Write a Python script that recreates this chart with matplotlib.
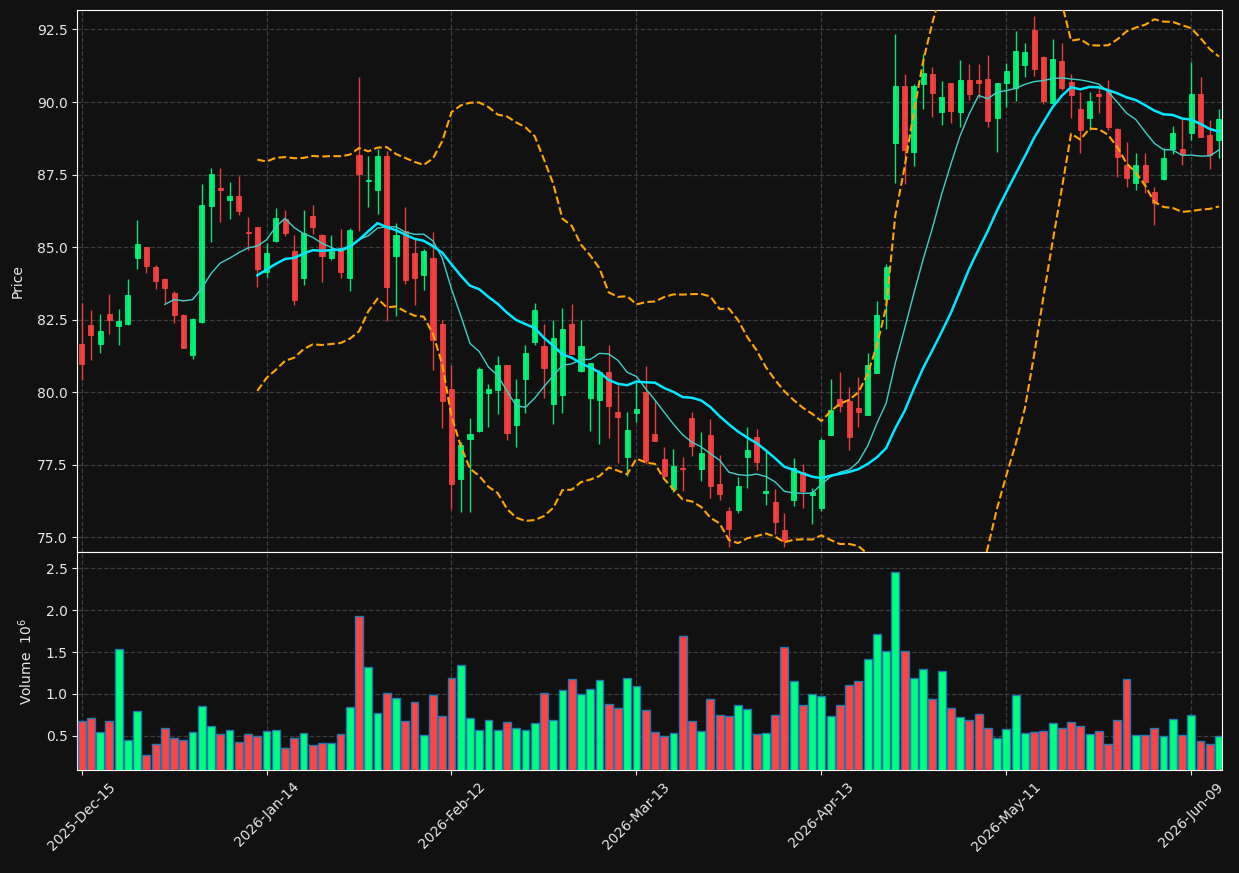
import matplotlib
matplotlib.use("Agg")
import matplotlib.pyplot as plt
import numpy as np
import pandas as pd

# daily OHLC, 2025-12-15 .. 2026-06-12 (trading days)
opens = [81.66, 82.31, 81.67, 82.71, 82.29, 82.36, 84.63, 84.99, 84.33, 83.89,
         83.41, 82.66, 81.29, 82.41, 86.42, 87.02, 86.63, 86.75, 85.53, 85.69,
         84.13, 85.22, 85.96, 84.85, 83.93, 86.08, 85.43, 84.62, 84.98, 83.93,
         88.19, 87.28, 86.96, 88.15, 84.68, 85.57, 84.81, 84.03, 84.63, 82.35,
         80.11, 77.00, 78.40, 78.67, 79.98, 80.08, 80.93, 78.88, 80.46, 81.73,
         81.58, 79.60, 79.91, 82.34, 80.72, 79.81, 79.74, 80.70, 79.30, 77.78,
         79.29, 80.00, 78.57, 77.68, 76.67, 77.38, 79.12, 77.35, 78.54, 76.85,
         75.92, 75.93, 77.76, 78.46, 76.51, 76.22, 75.24, 76.30, 77.24, 76.44,
         76.00, 78.51, 79.78, 79.68, 79.47, 79.21, 80.67, 83.22, 88.60, 90.55,
         88.28, 90.62, 90.96, 89.64, 90.65, 89.67, 90.76, 90.76, 90.79, 89.46,
         90.64, 90.47, 91.27, 92.48, 91.55, 89.95, 91.41, 90.70, 89.76, 89.46,
         90.26, 90.41, 89.07, 87.83, 87.22, 87.83, 86.90, 87.33, 88.38, 88.38,
         88.94, 90.28, 88.86, 88.69]
highs = [83.06, 82.82, 82.71, 83.37, 82.88, 83.90, 85.95, 85.00, 84.40, 83.95,
         83.48, 82.68, 82.57, 87.19, 87.74, 87.71, 87.25, 87.44, 86.04, 85.70,
         85.13, 86.35, 86.28, 85.43, 86.28, 86.45, 85.45, 85.43, 85.63, 85.65,
         90.87, 88.14, 88.37, 88.30, 85.83, 86.38, 85.30, 84.94, 85.52, 82.49,
         80.95, 78.30, 79.11, 80.87, 80.27, 81.26, 80.95, 80.47, 81.64, 83.08,
         82.36, 82.50, 82.91, 83.05, 82.50, 81.01, 80.78, 81.62, 80.24, 79.30,
         80.42, 80.90, 79.74, 78.11, 78.04, 77.77, 79.31, 78.63, 79.07, 77.83,
         76.05, 77.08, 78.80, 78.73, 77.96, 76.68, 75.85, 77.73, 77.53, 76.70,
         78.42, 80.44, 80.70, 80.17, 80.53, 81.35, 83.13, 84.42, 92.33, 90.95,
         90.62, 91.67, 91.22, 90.73, 90.67, 91.45, 91.31, 91.31, 91.62, 90.67,
         91.36, 92.45, 92.05, 92.96, 91.57, 92.16, 92.05, 90.95, 90.36, 90.36,
         90.55, 90.76, 89.09, 88.61, 88.26, 88.23, 87.06, 88.41, 89.17, 89.40,
         91.39, 90.87, 89.38, 89.76]
lows = [80.42, 81.11, 81.36, 81.99, 81.64, 82.31, 84.26, 84.12, 83.57, 83.06,
        82.40, 81.51, 81.16, 82.39, 85.16, 85.85, 85.98, 86.12, 84.89, 83.63,
        83.96, 85.19, 85.38, 83.01, 83.70, 85.45, 83.79, 84.56, 83.95, 83.49,
        85.55, 86.37, 86.14, 82.45, 82.62, 83.73, 83.01, 83.51, 80.77, 78.77,
        75.98, 75.86, 75.86, 78.64, 78.81, 79.24, 78.34, 78.12, 79.27, 81.62,
        79.81, 78.89, 79.27, 81.30, 80.70, 78.66, 78.20, 78.41, 77.55, 77.11,
        78.96, 77.53, 78.31, 77.08, 76.56, 76.59, 77.79, 76.95, 76.37, 76.30,
        74.68, 75.85, 76.70, 77.33, 76.12, 75.10, 74.65, 76.08, 76.02, 75.45,
        75.90, 78.51, 79.31, 78.00, 78.81, 79.21, 80.67, 82.19, 87.20, 87.17,
        87.78, 89.77, 89.47, 89.21, 89.27, 89.15, 90.07, 90.13, 89.15, 88.27,
        89.84, 90.03, 90.87, 90.91, 89.92, 89.92, 90.41, 89.44, 88.23, 89.04,
        89.61, 89.04, 87.43, 87.06, 86.97, 86.88, 85.77, 87.32, 88.21, 87.83,
        88.69, 88.78, 87.68, 88.06]
closes = [80.98, 81.98, 82.10, 82.49, 82.45, 83.34, 85.10, 84.35, 83.84, 83.60,
          82.67, 81.53, 82.52, 86.44, 87.51, 86.96, 86.75, 86.25, 85.50, 84.23,
          84.81, 86.02, 85.47, 83.19, 85.47, 85.68, 84.68, 84.85, 84.13, 85.60,
          87.51, 87.32, 88.15, 83.62, 85.43, 83.88, 83.93, 84.88, 81.80, 79.69,
          76.84, 78.18, 78.56, 80.79, 80.11, 80.93, 78.61, 79.76, 81.34, 82.82,
          80.84, 81.85, 82.19, 81.32, 81.58, 80.99, 80.70, 79.53, 79.14, 78.70,
          79.42, 77.62, 78.31, 77.11, 77.44, 77.35, 78.14, 77.92, 76.76, 76.49,
          75.29, 76.78, 78.01, 77.59, 76.58, 75.53, 74.87, 77.39, 76.61, 76.56,
          78.36, 79.37, 79.54, 78.47, 79.31, 80.95, 82.67, 84.33, 90.55, 88.33,
          90.55, 91.01, 90.32, 90.17, 89.70, 90.76, 90.26, 90.64, 89.36, 90.65,
          91.07, 91.75, 91.71, 91.14, 90.05, 91.48, 90.47, 90.25, 89.05, 90.05,
          90.21, 89.15, 88.10, 87.37, 87.83, 87.26, 86.51, 88.07, 88.92, 88.21,
          90.28, 88.81, 88.18, 89.42]
# volume in millions
volumes = [0.677, 0.717, 0.548, 0.681, 1.536, 0.452, 0.801, 0.271, 0.404, 0.596,
           0.476, 0.452, 0.548, 0.861, 0.620, 0.524, 0.572, 0.428, 0.524, 0.500,
           0.560, 0.572, 0.355, 0.476, 0.536, 0.392, 0.416, 0.416, 0.524, 0.849,
           1.934, 1.319, 0.777, 1.006, 0.946, 0.681, 0.898, 0.512, 0.982, 0.741,
           1.187, 1.343, 0.717, 0.568, 0.693, 0.568, 0.669, 0.596, 0.568, 0.657,
           1.006, 0.693, 1.042, 1.175, 0.994, 1.054, 1.163, 0.886, 0.837, 1.187,
           1.090, 0.813, 0.548, 0.500, 0.536, 1.693, 0.681, 0.560, 0.934, 0.753,
           0.741, 0.873, 0.825, 0.524, 0.536, 0.753, 1.560, 1.151, 0.873, 0.994,
           0.970, 0.741, 0.873, 1.102, 1.151, 1.416, 1.717, 1.512, 2.452, 1.512,
           1.187, 1.295, 0.934, 1.271, 0.837, 0.729, 0.693, 0.765, 0.596, 0.476,
           0.584, 0.982, 0.536, 0.548, 0.560, 0.657, 0.596, 0.669, 0.620, 0.524,
           0.560, 0.404, 0.693, 1.175, 0.512, 0.512, 0.596, 0.500, 0.705, 0.512,
           0.753, 0.440, 0.404, 0.500]
tick_labels = ['2025-Dec-15', '2026-Jan-14', '2026-Feb-12', '2026-Mar-13',
               '2026-Apr-13', '2026-May-11', '2026-Jun-09']

BG = '#111111'
UP = '#00ff7f'
DOWN = '#ff4444'
FG = '#e8e8e8'

o = np.array(opens); h = np.array(highs); l = np.array(lows); c = np.array(closes)
x = np.arange(len(c))
up = c >= o
colors = np.where(up, UP, DOWN)

close_s = pd.Series(c)
ma10 = close_s.rolling(10).mean()
ma20 = close_s.rolling(20).mean()
sd20 = close_s.rolling(20).std()
bb_up = ma20 + 2 * sd20
bb_lo = ma20 - 2 * sd20

fig = plt.figure(figsize=(12.39, 8.73), dpi=100, facecolor=BG)
ax = fig.add_axes([0.0625, 0.3673, 0.924, 0.6212], facecolor=BG)
axv = fig.add_axes([0.0625, 0.118, 0.924, 0.2494], facecolor=BG, sharex=ax)

# candles
ax.vlines(x, l, h, colors=colors, linewidth=1, alpha=0.9, zorder=2)
body = np.maximum(np.abs(c - o), 0.02)
ax.bar(x, body, bottom=np.minimum(o, c), width=0.55, color=colors,
       edgecolor=colors, linewidth=0.6, alpha=0.9, zorder=3)

# moving averages and bollinger bands
ax.plot(x, ma10, color='#40d0c8', linewidth=1.0, zorder=4)
ax.plot(x, ma20, color='#00e8ff', linewidth=1.8, zorder=4)
ax.plot(x, bb_up, color='#ffa500', linestyle='--', linewidth=1.5, zorder=4)
ax.plot(x, bb_lo, color='#ffa500', linestyle='--', linewidth=1.5, zorder=4)

# volume
axv.bar(x, volumes, width=0.85, color=colors, edgecolor='#1f77b4',
        linewidth=1, zorder=3)

ax.set_xlim(-0.45, 123.35)
ax.set_ylim(74.48, 93.17)
axv.set_ylim(0.093, 2.69)
ax.set_yticks(np.arange(75, 93, 2.5))
axv.set_yticks(np.arange(0.5, 2.6, 0.5))
axv.set_xticks(np.arange(0, len(c), 20))
axv.set_xticklabels(tick_labels, rotation=45)
ax.tick_params(axis='x', labelbottom=False, length=0)

ax.set_ylabel('Price', color=FG, fontsize=10, labelpad=9)
axv.set_ylabel('Volume  $10^{6}$', color=FG, fontsize=10, labelpad=8)

for a in (ax, axv):
    a.grid(True, linestyle='--', color='#3c3c3c', linewidth=0.9, zorder=0)
    a.set_axisbelow(True)
    a.tick_params(colors=FG, labelsize=10)
    for s in a.spines.values():
        s.set_color('white')

fig.savefig('out.png', dpi=100, facecolor=BG)
